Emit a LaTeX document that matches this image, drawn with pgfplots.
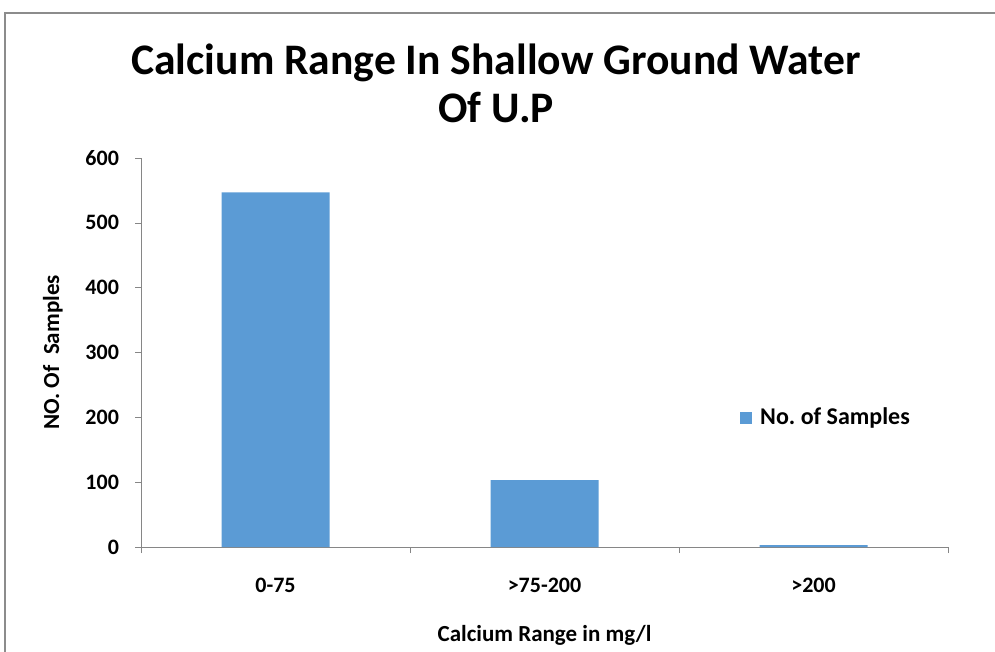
\documentclass[border=0pt]{standalone}
\usepackage{fontspec}
\setmainfont{Carlito}
\usepackage{pgfplots}
\pgfplotsset{compat=1.18}
\definecolor{barblue}{RGB}{91,155,213}
\definecolor{axgray}{RGB}{134,134,134}
\definecolor{framegray}{RGB}{140,140,140}
\frenchspacing
\begin{document}
\begin{tikzpicture}
\begin{scope}[x=0.5pt,y=-0.5pt]
\useasboundingbox (0,0) rectangle (995,647);
\draw[framegray,line width=1pt] (5,660) -- (5,13) -- (1000,13);
\node[anchor=base,font=\bfseries\fontsize{21.8}{25}\selectfont] at (496,75) {Calcium Range In Shallow Ground Water};
\node[anchor=base,font=\bfseries\fontsize{21.8}{25}\selectfont] at (496,123) {Of U.P};
\end{scope}
\begin{axis}[
  at={(70.5pt,-273.5pt)}, anchor=south west,
  scale only axis, width=403.5pt, height=194.5pt,
  xmin=-0.5, xmax=2.5, ymin=0, ymax=600,
  axis x line*=bottom, axis y line*=left,
  axis line style={axgray, line width=0.5pt},
  xtick={0,1,2}, xticklabels={0-75,>75-200,>200},
  major x tick style={draw=none},
  minor xtick={-0.5,0.5,1.5,2.5},
  minor x tick style={axgray},
  minor tick length=3pt,
  ytick={0,100,...,600},
  y tick style={axgray},
  major tick length=3pt,
  tick align=outside,
  xticklabel style={yshift=-9pt, font=\bfseries\fontsize{11}{13}\selectfont},
  yticklabel style={font=\bfseries\fontsize{11}{13}\selectfont, xshift=-4.5pt},
  /pgf/number format/assume math mode=true,
  xlabel={Calcium Range in mg/l},
  ylabel={NO. Of\ \ Samples},
  xlabel style={font=\bfseries\fontsize{11.5}{13}\selectfont, at={(axis description cs:0.5,0)}, anchor=base, yshift=-47pt},
  ylabel style={font=\bfseries\fontsize{11.5}{13}\selectfont, at={(axis description cs:0,0.5)}, anchor=base, yshift=41pt},
  legend style={draw=none, fill=none, at={(axis description cs:0.742,0.332)}, anchor=west, inner sep=0pt, font=\bfseries\fontsize{12}{14}\selectfont, legend cell align=left},
  legend image code/.code={\fill[barblue] (0pt,-3pt) rectangle (6pt,3pt); \path (8pt,0pt);},
]
\addplot[ybar, bar width=54pt, fill=barblue, draw=none] coordinates {(0,547) (1,103) (2,3)};
\addlegendentry{No. of Samples}
\end{axis}
\end{tikzpicture}
\end{document}
